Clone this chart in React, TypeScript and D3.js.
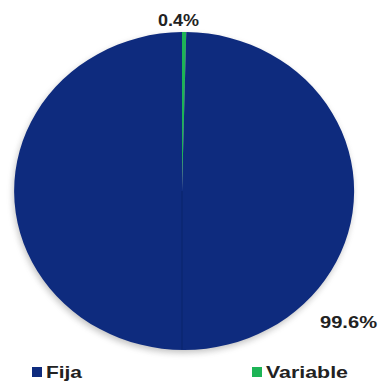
import React from "react";
import * as d3 from "d3";

const categories = ["Fija", "Variable"];
const values = [99.6, 0.4];
const labels = ["99.6%", "0.4%"];
const colors = ["#0e2b7e", "#1db456"];

export default function App() {
  const W = 382, H = 384;
  const cx = 182, cy = 191, rx = 170, ry = 159;
  // Variable drawn first so it starts at 12 o'clock, clockwise
  const ordered = [values[1], values[0]];
  const colorOrdered = [colors[1], colors[0]];
  const arcsData = d3.pie<number>().sort(null).value((d) => d)(ordered);
  const arc = d3.arc<d3.PieArcDatum<number>>().innerRadius(0).outerRadius(1);
  return (
    <svg width={W} height={H} style={{ position: "absolute", left: 0, top: 0, background: "#fff" }}
      fontFamily="'Liberation Sans', Arial, sans-serif">
      <defs>
        <filter id="sh" x="-10%" y="-10%" width="120%" height="120%">
          <feGaussianBlur stdDeviation="3" />
        </filter>
      </defs>
      <ellipse cx={cx + 1} cy={cy + 3} rx={rx} ry={ry} fill="#555" opacity={0.35} filter="url(#sh)" />
      <g transform={`translate(${cx},${cy}) scale(${rx},${ry})`}>
        {arcsData.map((a, i) => (
          <path key={i} d={arc(a) || ""} fill={colorOrdered[i]} />
        ))}
      </g>
      <line x1={cx} y1={cy} x2={cx} y2={cy + ry} stroke="#08205f" strokeWidth={1.2} opacity={0.5} />
      <text x={158} y={26} textLength={41} lengthAdjust="spacingAndGlyphs" fontWeight="bold" fontSize={17} fill="#222">{labels[1]}</text>
      <text x={320} y={328} textLength={57} lengthAdjust="spacingAndGlyphs" fontWeight="bold" fontSize={17} fill="#222">{labels[0]}</text>
      <rect x={32} y={367} width={10} height={10} fill={colors[0]} />
      <text x={46} y={378} textLength={36} lengthAdjust="spacingAndGlyphs" fontWeight="bold" fontSize={17} fill="#222">{categories[0]}</text>
      <rect x={252} y={367} width={10} height={10} fill={colors[1]} />
      <text x={266} y={378} textLength={82} lengthAdjust="spacingAndGlyphs" fontWeight="bold" fontSize={17} fill="#222">{categories[1]}</text>
    </svg>
  );
}
